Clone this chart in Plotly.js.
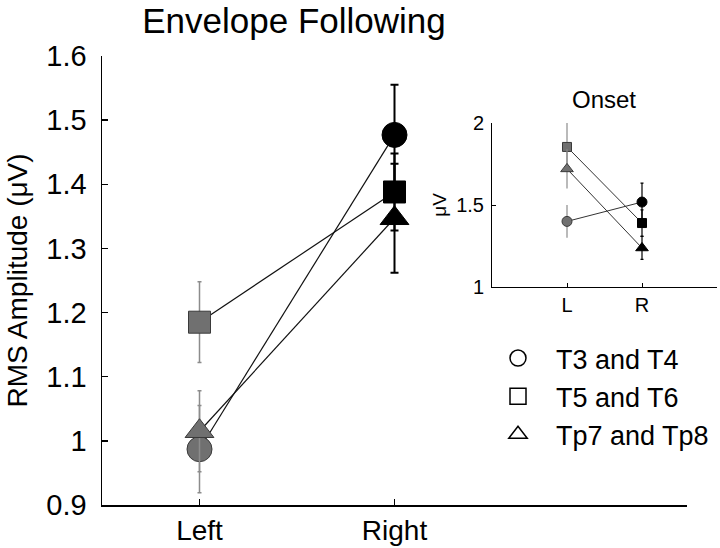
<!DOCTYPE html>
<html>
<head>
<meta charset="utf-8">
<script src="https://cdn.plot.ly/plotly-3.0.1.min.js"></script>
<style>html,body{margin:0;padding:0;background:#fff;}#chart{width:720px;height:548px;}</style>
</head>
<body>
<div id="chart"></div>
<script>
// ---- Data ----
const categories = ['Left', 'Right'];
const insetCategories = ['L', 'R'];
const seriesNames = ['T3 and T4', 'T5 and T6', 'Tp7 and Tp8'];

// Envelope following RMS amplitude (µV)
const efrT3T4 = [0.987, 1.477];
const efrT5T6 = [1.185, 1.388];
const efrTp7Tp8 = [1.015, 1.347];
const efrErrT3T4 = [0.068, 0.078];
const efrErrT5T6 = [0.063, 0.060];
const efrErrTp7Tp8 = [0.063, 0.085];

// Onset amplitude (µV)
const onsetT3T4 = [1.40, 1.518];
const onsetT5T6 = [1.854, 1.39];
const onsetTp7Tp8 = [1.72, 1.238];
const onsetErrT3T4 = [0.10, 0.115];
const onsetErrT5T6 = [0.15, 0.08];
const onsetErrTp7Tp8 = [0.12, 0.07];

const mainYTicks = [0.9, 1, 1.1, 1.2, 1.3, 1.4, 1.5, 1.6];
const mainYTickText = ['0.9', '1', '1.1', '1.2', '1.3', '1.4', '1.5', '1.6'];
const insetYTicks = [1, 1.5, 2];
const insetYTickText = ['1', '1.5', '2'];

// ---- Styling ----
const FONT = 'Liberation Sans, Arial, sans-serif';
const symbols = ['circle', 'square', 'triangle-up'];
const mainSizes = [25, 22, 25];
const insetSizes = [10, 9, 11];
const leftFill = '#707070';
const leftErr = '#8c8c8c';
const rightFill = '#000000';

const efrVals = [efrT3T4, efrT5T6, efrTp7Tp8];
const efrErrs = [efrErrT3T4, efrErrT5T6, efrErrTp7Tp8];
const onsetVals = [onsetT3T4, onsetT5T6, onsetTp7Tp8];
const onsetErrs = [onsetErrT3T4, onsetErrT5T6, onsetErrTp7Tp8];

const traces = [];

function addPanel(cats, vals, errs, xa, ya, sizes, lineColor, lineW, errThick, capL, capR) {
  vals.forEach((v, i) => {
    traces.push({
      type: 'scatter', mode: 'lines', x: cats, y: v, xaxis: xa, yaxis: ya,
      line: {color: lineColor, width: lineW}, showlegend: false, hoverinfo: 'skip'
    });
  });
  [0, 1].forEach(side => {
    vals.forEach((v, i) => {
      traces.push({
        type: 'scatter', mode: 'markers', x: [cats[side]], y: [v[side]], xaxis: xa, yaxis: ya,
        marker: {symbol: symbols[i], size: sizes[i], color: side === 0 ? leftFill : rightFill,
                 line: {color: side === 0 ? '#3a3a3a' : '#000', width: 1}},
        error_y: {type: 'data', array: [errs[i][side]], visible: true,
                  color: side === 0 ? leftErr : '#000', thickness: errThick[side], width: side === 0 ? capL : capR},
        showlegend: false, hoverinfo: 'skip'
      });
    });
  });
}

addPanel(categories, efrVals, efrErrs, 'x', 'y', mainSizes, '#111', 1.2, [1.5, 2], 2, 4);
addPanel(insetCategories, onsetVals, onsetErrs, 'x2', 'y2', insetSizes, '#333', 1, [1.2, 1.2], 0, 1.5);

seriesNames.forEach((name, i) => {
  traces.push({
    type: 'scatter', mode: 'markers', x: [null], y: [null], name: name,
    marker: {symbol: symbols[i] + '-open', size: 16, color: '#000', line: {width: 1.5}},
    showlegend: true
  });
});

const axisCommon = {showgrid: false, zeroline: false, showline: true, linecolor: '#000', mirror: false,
                    ticks: 'inside', tickcolor: '#000', fixedrange: true};

const layout = {
  width: 720, height: 548,
  margin: {l: 0, r: 0, t: 0, b: 0},
  paper_bgcolor: '#fff', plot_bgcolor: 'rgba(0,0,0,0)',
  font: {family: FONT, color: '#000'},
  title: {text: 'Envelope Following', font: {size: 35, family: FONT, color: '#000'},
          x: 294 / 720, xanchor: 'center', xref: 'paper', y: 1 - 21 / 548, yanchor: 'middle', yref: 'container'},
  xaxis: Object.assign({}, axisCommon, {
    type: 'category', range: [-0.5, 2.5], domain: [102 / 720, 687 / 720], anchor: 'y',
    linewidth: 1.5, tickwidth: 1.5, ticklen: 6, tickfont: {size: 28}, ticklabelstandoff: 0
  }),
  yaxis: Object.assign({}, axisCommon, {
    range: [0.9, 1.6], domain: [(548 - 505) / 548, (548 - 56) / 548], anchor: 'x',
    tickvals: mainYTicks, ticktext: mainYTickText,
    linewidth: 1.5, tickwidth: 1.5, ticklen: 6, tickfont: {size: 29}, ticklabelstandoff: 8,
    title: {text: 'RMS Amplitude (μV)', font: {size: 28}, standoff: 10}
  }),
  xaxis2: Object.assign({}, axisCommon, {
    type: 'category', range: [-1, 2], domain: [492 / 720, 717 / 720], anchor: 'y2',
    linewidth: 1, tickwidth: 1, ticklen: 4, tickfont: {size: 20}, ticklabelstandoff: 0
  }),
  yaxis2: Object.assign({}, axisCommon, {
    range: [1, 2], domain: [(548 - 287) / 548, (548 - 123) / 548], anchor: 'x2',
    tickvals: insetYTicks, ticktext: insetYTickText,
    linewidth: 1, tickwidth: 1, ticklen: 4, tickfont: {size: 20}, ticklabelstandoff: 3,
    title: {text: 'μV', font: {size: 19}, standoff: 4}
  }),
  annotations: [{
    text: 'Onset', xref: 'paper', yref: 'paper', x: 604 / 720, y: 1 - 99 / 548,
    xanchor: 'center', yanchor: 'middle', showarrow: false, font: {size: 24, family: FONT, color: '#000'}
  }],
  showlegend: true,
  legend: {x: 480 / 720, y: 1 - 334 / 548, xanchor: 'left', yanchor: 'top', font: {size: 27, family: FONT, color: '#000'},
           bgcolor: 'rgba(0,0,0,0)', tracegroupgap: 0, itemwidth: 66}
};

Plotly.newPlot('chart', traces, layout, {staticPlot: true, displayModeBar: false});
</script>
</body>
</html>
